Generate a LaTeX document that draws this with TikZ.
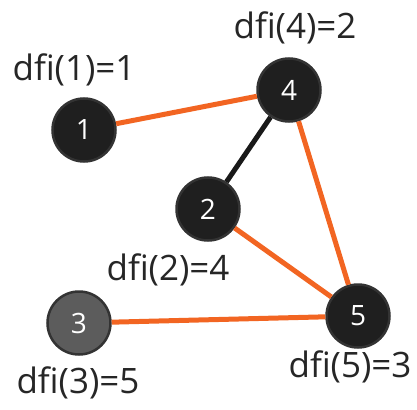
\documentclass[tikz,border=0pt]{standalone}
\usepackage{fontspec}
\setmainfont{Open Sans}
\usetikzlibrary{positioning}
\definecolor{treeorange}{HTML}{F26522}
\definecolor{vgray}{HTML}{5C5C5C}
\tikzset{
  vert/.style={circle, draw=black!80, line width=2.5pt, fill=black!88, minimum size=63pt, inner sep=0pt, text=white, font=\fontsize{28}{32}\selectfont},
  dfilbl/.style={font=\fontsize{35}{40}\selectfont, text=black!85, inner sep=0pt},
  treeedge/.style={treeorange, line width=5pt},
  backedge/.style={black!90, line width=5pt}
}
\begin{document}
\begin{tikzpicture}[x=1pt, y=-1pt]
\useasboundingbox (0,0) rectangle (417,409);
\node [vert] (v1) at (84,130)  {1};
\node [vert] (v4) at (289,90)  {4};
\node [vert] (v2) at (208,209) {2};
\node [vert] (v5) at (358,316) {5};
\node [vert, fill=vgray] (v3) at (79,323) {3};
\draw [treeedge] (v1) -- (v4);
\draw [treeedge] (v4) -- (v5);
\draw [treeedge] (v2) -- (v5);
\draw [treeedge] (v3) -- (v5);
\draw [backedge] (v4) -- (v2);
\node [dfilbl] (l1) at (74,70)   {dfi(1)=1};
\node [dfilbl] (l4) at (295,28)  {dfi(4)=2};
\node [dfilbl] (l2) at (168,270) {dfi(2)=4};
\node [dfilbl] (l5) at (350,367) {dfi(5)=3};
\node [dfilbl] (l3) at (78,383)  {dfi(3)=5};
\end{tikzpicture}
\end{document}
